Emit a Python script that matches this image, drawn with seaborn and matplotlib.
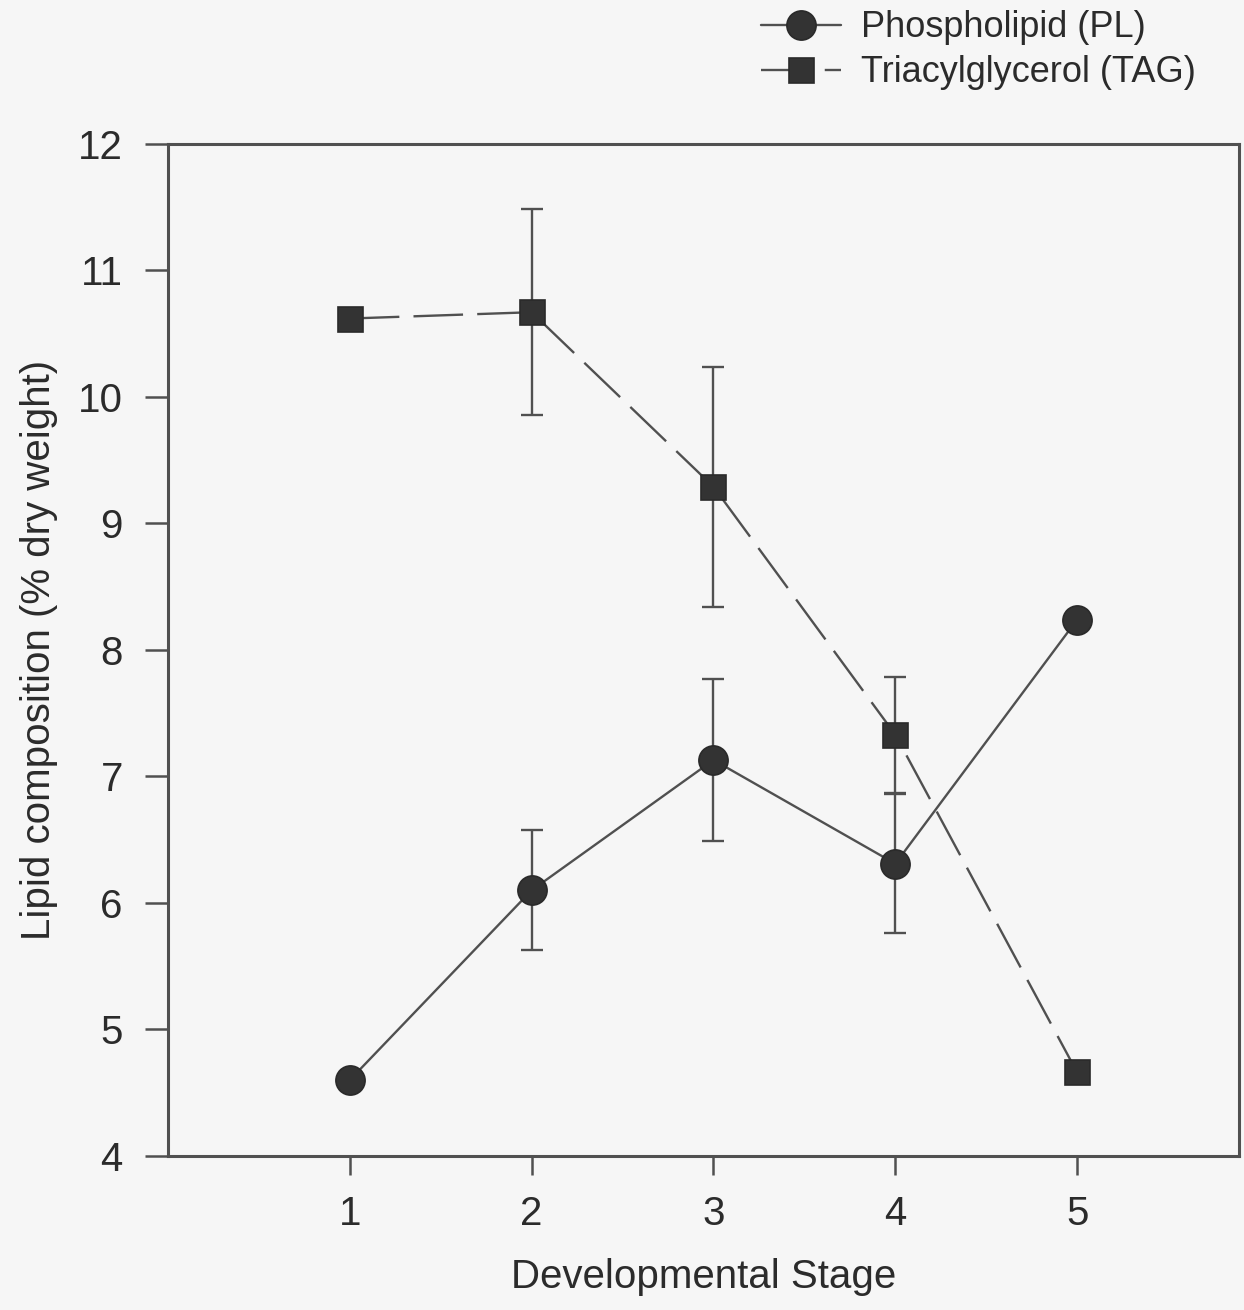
import numpy as np
import pandas as pd
import matplotlib
matplotlib.use('Agg')
import matplotlib.pyplot as plt
import seaborn as sns

# data
stages = [1, 2, 3, 4, 5]
pl_mean = [4.60, 6.10, 7.13, 6.31, 8.24]
pl_err = [0.0, 0.475, 0.64, 0.55, 0.0]
tag_mean = [10.62, 10.67, 9.29, 7.33, 4.66]
tag_err = [0.0, 0.815, 0.95, 0.46, 0.0]

df = pd.DataFrame({'Stage': stages, 'PL': pl_mean, 'PL_err': pl_err,
                   'TAG': tag_mean, 'TAG_err': tag_err})

sns.set_theme(style="ticks")
plt.rcParams['font.family'] = ['Liberation Sans', 'DejaVu Sans']

bg = '#f6f6f6'
ink = '#2b2b2b'
line_c = '#505050'

fig = plt.figure(figsize=(12.44, 13.10), dpi=100, facecolor=bg)
ax = fig.add_axes([0.135, 0.1176, 0.861, 0.7725])
ax.set_facecolor(bg)

# error bars first so markers sit on top
has_err = df['PL_err'] > 0
ax.errorbar(df.loc[has_err, 'Stage'], df.loc[has_err, 'PL'], yerr=df.loc[has_err, 'PL_err'],
            fmt='none', ecolor=line_c, elinewidth=1.7, capsize=8, capthick=1.7, zorder=2)
has_err = df['TAG_err'] > 0
ax.errorbar(df.loc[has_err, 'Stage'], df.loc[has_err, 'TAG'], yerr=df.loc[has_err, 'TAG_err'],
            fmt='none', ecolor=line_c, elinewidth=1.7, capsize=8, capthick=1.7, zorder=2)

sns.lineplot(data=df, x='Stage', y='PL', ax=ax, color=line_c, linewidth=1.7,
             marker='o', markersize=21, markerfacecolor='#333333',
             markeredgecolor='#2a2a2a', markeredgewidth=1.2,
             label='Phospholipid (PL)', legend=False, zorder=3)
sns.lineplot(data=df, x='Stage', y='TAG', ax=ax, color=line_c, linewidth=1.7,
             linestyle=(0, (21, 6)), marker='s', markersize=18,
             markerfacecolor='#333333', markeredgecolor='#2a2a2a', markeredgewidth=1.2,
             label='Triacylglycerol (TAG)', legend=False, zorder=3)

ax.set_xlim(0, 5.89)
ax.set_ylim(4, 12)
ax.set_xticks(stages)
ax.set_yticks(range(4, 13))

for s in ax.spines.values():
    s.set_color(line_c)
    s.set_linewidth(2.2)

ax.tick_params(axis='x', direction='out', length=14, width=1.8, color=line_c,
               labelsize=29, labelcolor=ink, pad=14)
ax.tick_params(axis='y', direction='out', length=16.5, width=1.8, color=line_c,
               labelsize=29, labelcolor=ink, pad=16)

ax.set_xlabel('Developmental Stage', fontsize=29, color=ink, labelpad=18)
ax.set_ylabel('Lipid composition (% dry weight)', fontsize=29, color=ink, labelpad=14)

handles, labels = ax.get_legend_handles_labels()
fig.legend(handles, labels, loc='upper left', bbox_to_anchor=(0.609, 0.995),
           frameon=False, fontsize=26, labelcolor=ink, handlelength=2.2,
           handletextpad=0.55, labelspacing=0.28, borderpad=0.1, borderaxespad=0)

fig.savefig('out.png', dpi=100, facecolor=bg)
